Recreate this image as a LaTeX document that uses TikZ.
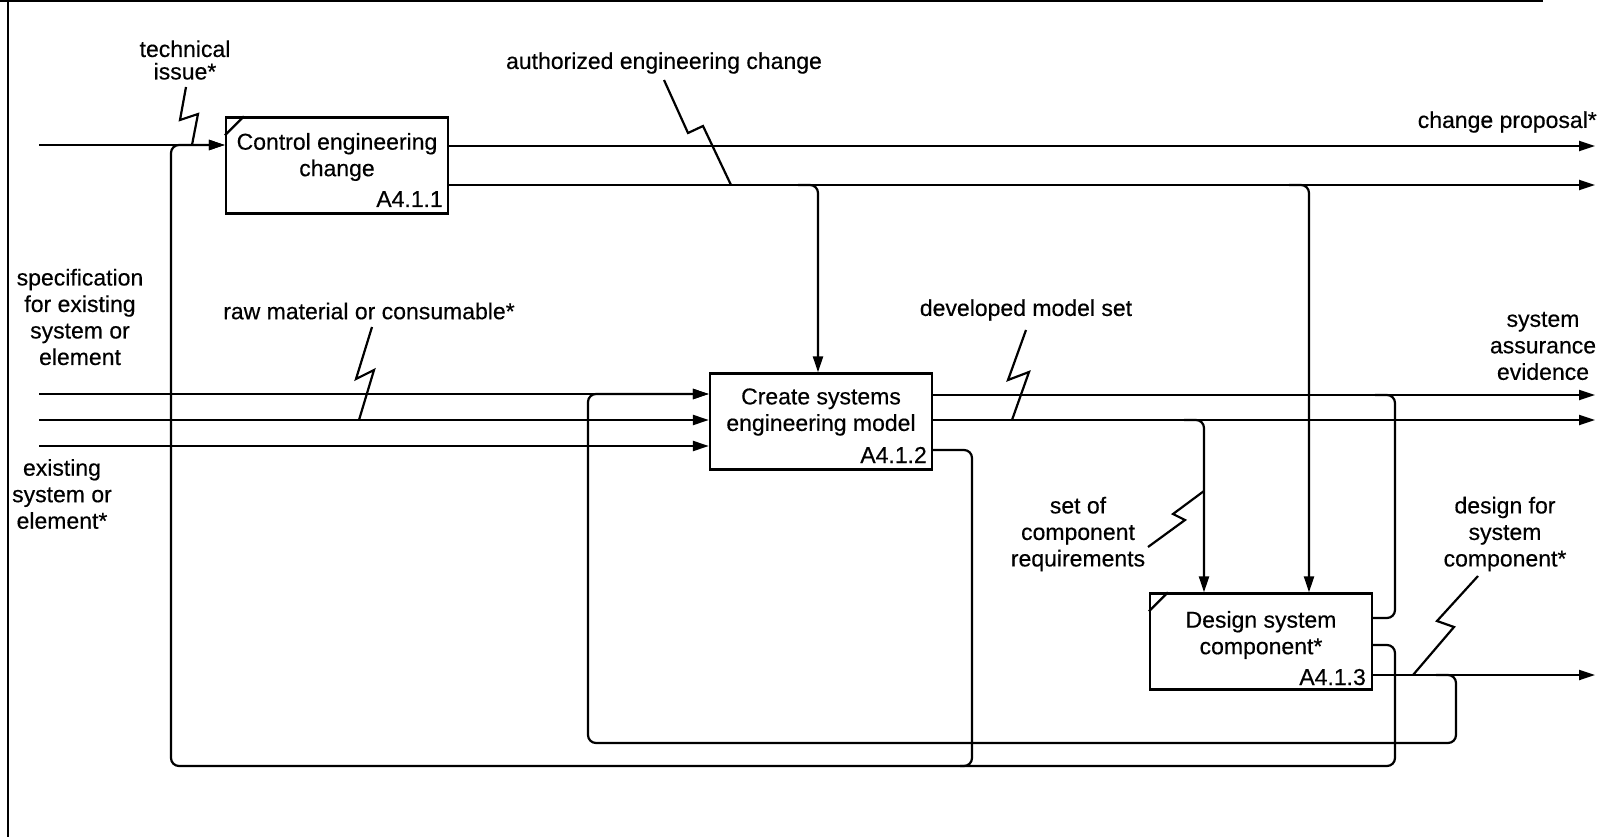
\documentclass[tikz,border=0pt]{standalone}
\usepackage{fontspec}
\setmainfont{Liberation Sans}[FakeBold=0.4]
\usetikzlibrary{arrows.meta,calc}

\begin{document}
\begin{tikzpicture}[x=1pt,y=-1pt,
  every node/.style={font=\fontsize{23}{26.5}\selectfont, inner sep=0pt},
  proc/.style={draw, line width=2.3pt, minimum width=222pt, minimum height=96pt},
  flow/.style={line width=2.2pt, rounded corners=8pt},
  arr/.style={flow, -{Triangle[length=16pt,width=10pt]}},
  zig/.style={line width=2.2pt, line join=miter},
  lbl/.style={align=center},
  idtag/.style={anchor=base east},
  tick/.style={line width=2.2pt},
]
\useasboundingbox (0,0) rectangle (1616,837);

% frame
\draw[line width=2.2pt] (0,1) -- (1543,1);
\draw[line width=1.8pt] (8,0) -- (8,837);

% activity boxes
\node[proc] (b1) at (337,165.5) {};
\node[lbl] (b1t) at (337,157) {Control engineering\\change};
\node[idtag] (b1id) at (443,207) {A4.1.1};
\draw[tick] ($(b1.north west)+(0,19)$) -- ($(b1.north west)+(19,0)$);

\node[proc] (b2) at (821,421.5) {};
\node[lbl] (b2t) at (821,412) {Create systems\\engineering model};
\node[idtag] (b2id) at (927,463) {A4.1.2};

\node[proc] (b3) at (1261,641.5) {};
\node[lbl] (b3t) at (1261,635) {Design system\\component*};
\node[idtag] (b3id) at (1366,685) {A4.1.3};
\draw[tick] ($(b3.north west)+(0,19)$) -- ($(b3.north west)+(19,0)$);

% line ends
\coordinate (i1) at (39,145);
\coordinate (i2) at (39,394);
\coordinate (i3) at (39,420);
\coordinate (i4) at (39,446);
\coordinate (o1) at (1595,146);
\coordinate (o2) at (1595,185);
\coordinate (o3) at (1595,395);
\coordinate (o4) at (1595,420);
\coordinate (o5) at (1595,675);

% inputs
\draw[arr] (i1) -- (i1 -| b1.west);
\draw[arr] (i2) -- (i2 -| b2.west);
\draw[arr] (i3) -- (i3 -| b2.west);
\draw[arr] (i4) -- (i4 -| b2.west);

% outputs of A4.1.1
\draw[arr] (o1 -| b1.east) -- (o1);
\draw[arr] (o2 -| b1.east) -- (o2);
\coordinate (j1) at (818,185);
\draw[arr] ($(j1)+(-20,0)$) -- (j1) -- (j1 |- b2.north);
\coordinate (j2) at (1309,185);
\draw[arr] ($(j2)+(-20,0)$) -- (j2) -- (j2 |- b3.north);

% outputs of A4.1.2
\draw[arr] (o3 -| b2.east) -- (o3);
\draw[arr] (o4 -| b2.east) -- (o4);
\coordinate (j3) at (1204,420);
\draw[arr] ($(j3)+(-20,0)$) -- (j3) -- (j3 |- b3.north);

% feedback from A4.1.2 to A4.1.1
\coordinate (m2) at (972,450);
\draw[arr] (m2 -| b2.east) -- (m2) -- (972,766) -- (171,766) -- (171,145) -- (i1 -| b1.west);

% outputs of A4.1.3
\draw[arr] (b3.east |- o5) -- (o5);
\coordinate (q1) at (1395,618);
\draw[flow] (q1 -| b3.east) -- (q1) -- (q1 |- o3) -- ++(-20,0);
\coordinate (q2) at (1395,645);
\draw[flow] (q2 -| b3.east) -- (q2) -- (1395,766) -- (960,766);
\coordinate (q3) at (1456,675);
\draw[arr] ($(q3)+(-20,0)$) -- (q3) -- (1456,743) -- (588,743) -- (588,394) -- (i2 -| b2.west);

% labels
\node[lbl] (lti) at (185,60) {technical\\[-4pt]issue*};
\draw[zig] (186,87) -- (180,120) -- (198,114) -- (192,145);

\node (lae) at (664,63) {authorized engineering change};
\draw[zig] (664,80) -- (688,133) -- (703,126) -- (731,185);

\node[anchor=east] (lcp) at (1597,122) {change proposal*};

\node[lbl] (lsp) at (80,317) {specification\\for existing\\system or\\element};
\node (lrm) at (369,311) {raw material or consumable*};
\draw[zig] (372,327) -- (356,379) -- (374,370) -- (359,420);
\node[lbl] (lex) at (62,494) {existing\\system or\\element*};

\node (ldm) at (1026,310) {developed model set};
\draw[zig] (1026,330) -- (1008,380) -- (1029,372) -- (1012,420);

\node[lbl] (lsa) at (1543,346) {system\\assurance\\evidence};

\node[lbl] (lsc) at (1078,534) {set of\\component\\requirements};
\draw[zig] (1204,491) -- (1173,514) -- (1185,520) -- (1148,547);

\node[lbl] (ldc) at (1505,534) {design for\\system\\component*};
\draw[zig] (1478,576) -- (1437,621) -- (1454,627) -- (1413,675);

\end{tikzpicture}
\end{document}
